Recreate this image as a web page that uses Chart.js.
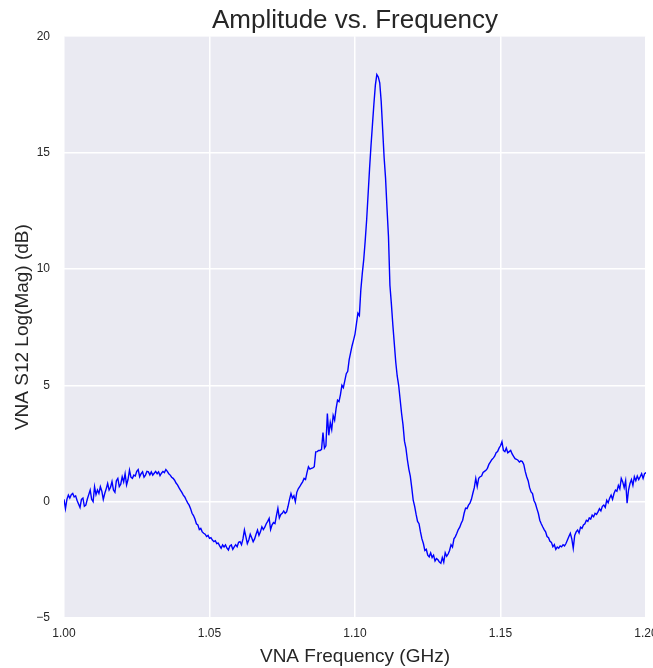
<!DOCTYPE html>
<html>
<head>
<meta charset="utf-8">
<title>Amplitude vs. Frequency</title>
<script src="https://cdn.jsdelivr.net/npm/chart.js@4.4.1/dist/chart.umd.min.js"></script>
<style>
  html, body { margin: 0; padding: 0; background: #ffffff; }
  #wrap { width: 653px; height: 668px; }
</style>
</head>
<body>
<div id="wrap"><canvas id="ampChart" width="653" height="668"></canvas></div>
<script>
// sweep: 1.000 -> 1.200 GHz, 0.0005 GHz per sample
const FREQ_START = 1.0;
const FREQ_STEP = 0.0005;

// S12 log magnitude (dB), 20 samples per 0.01 GHz
const s12 = [
  // 1.000
  0.1, -0.3, 0.1, 0.28, 0.15, 0.3, 0.35, 0.2, 0.25, 0.05, -0.1, -0.25, 0.1, 0.15, -0.2, -0.15, 0.1, 0.3, 0.5, 0.1,
  // 1.010
  0.0, 0.64, 0.3, 0.5, 0.35, 0.64, 0.45, 0.1, 0.35, 0.55, 0.78, 0.5, 0.62, 0.86, 0.5, 0.4, 0.9, 1.0, 0.65, 0.75,
  // 1.020
  1.07, 0.85, 1.2, 0.72, 0.95, 1.35, 1.05, 1.0, 1.14, 1.1, 1.3, 1.38, 1.07, 1.2, 1.28, 1.05, 1.14, 1.3, 1.28, 1.15,
  // 1.030
  1.28, 1.14, 1.22, 1.3, 1.2, 1.28, 1.12, 1.22, 1.3, 1.25, 1.38, 1.3, 1.2, 1.14, 1.05, 1.0, 0.92, 0.8, 0.72, 0.6,
  // 1.040
  0.5, 0.4, 0.28, 0.2, 0.07, -0.05, -0.15, -0.3, -0.5, -0.6, -0.75, -0.95, -1.0, -1.2, -1.15, -1.3, -1.36, -1.4, -1.5, -1.45,
  // 1.050
  -1.58, -1.55, -1.65, -1.72, -1.68, -1.8, -1.78, -1.9, -2.0, -1.86, -1.95, -1.86, -2.0, -2.08, -1.9, -1.86, -2.05, -1.94, -1.85, -1.94,
  // 1.060
  -1.75, -1.72, -1.85, -1.6, -1.22, -1.5, -1.8, -1.65, -1.4, -1.55, -1.72, -1.6, -1.4, -1.22, -1.45, -1.3, -1.08, -1.2, -1.1, -0.95,
  // 1.070
  -0.85, -0.72, -1.2, -1.0, -0.9, -0.94, -0.6, -0.29, -0.7, -0.55, -0.5, -0.4, -0.5, -0.44, -0.2, 0.1, 0.35, 0.15, 0.25, 0.0,
  // 1.080
  0.4, 0.55, 0.64, 0.75, 0.85, 1.0, 0.95, 1.25, 1.5, 1.4, 1.43, 1.45, 1.5, 2.14, 2.15, 2.2, 2.2, 2.25, 2.97, 2.3,
  // 1.090
  2.4, 3.79, 2.85, 3.4, 3.1, 3.7, 3.5, 4.0, 4.36, 4.3, 4.6, 5.0, 4.9, 5.2, 5.5, 5.6, 6.1, 6.4, 6.7, 6.94,
  // 1.100
  7.2, 7.65, 8.1, 8.0, 9.1, 9.8, 10.4, 11.2, 12.1, 13.2, 14.3, 15.3, 16.2, 17.1, 17.9, 18.35, 18.25, 18.0, 17.2, 16.0,
  // 1.110
  14.8, 13.9, 12.6, 11.4, 9.3, 8.5, 7.6, 6.8, 6.0, 5.4, 5.0, 4.4, 3.8, 3.3, 2.6, 2.3, 1.8, 1.4, 1.1, 0.6,
  // 1.120
  0.06, -0.2, -0.55, -0.85, -0.95, -1.3, -1.6, -1.8, -2.1, -2.05, -2.3, -2.37, -2.2, -2.4, -2.3, -2.55, -2.45, -2.5, -2.6, -2.65,
  // 1.130
  -2.4, -2.6, -2.2, -2.35, -2.25, -2.1, -1.85, -1.95, -1.6, -1.5, -1.36, -1.2, -1.1, -0.93, -0.8, -0.5, -0.28, -0.3, -0.15, -0.07,
  // 1.140
  0.1, 0.36, 0.6, 1.0, 0.65, 1.0, 1.07, 1.1, 1.25, 1.3, 1.35, 1.43, 1.6, 1.7, 1.8, 1.87, 1.95, 2.1, 2.15, 2.3,
  // 1.150
  2.4, 2.57, 2.2, 2.15, 2.3, 2.1, 2.15, 2.2, 2.05, 1.95, 1.85, 1.82, 1.78, 1.7, 1.75, 1.72, 1.6, 1.3, 1.07, 0.9,
  // 1.160
  0.6, 0.42, 0.35, 0.05, -0.08, -0.3, -0.5, -0.8, -0.95, -1.08, -1.2, -1.3, -1.5, -1.55, -1.7, -1.75, -1.94, -1.85, -2.05, -1.95,
  // 1.170
  -2.0, -1.9, -1.94, -1.85, -1.9, -1.8, -1.65, -1.5, -1.36, -1.6, -2.0, -1.45, -1.3, -1.22, -1.35, -1.1, -1.15, -1.0, -0.95, -0.8,
  // 1.180
  -0.85, -0.7, -0.75, -0.58, -0.65, -0.5, -0.55, -0.44, -0.3, -0.4, -0.2, -0.15, -0.25, 0.06, -0.05, 0.15, 0.28, 0.1, 0.35, 0.5,
  // 1.190
  0.45, 0.7, 0.55, 1.0, 0.85, 0.6, 0.9, -0.07, 0.5, 0.78, 0.95, 0.7, 1.07, 0.9, 1.1, 0.95, 1.07, 1.2, 1.0, 1.2,
  // 1.200
  1.25
];

const xTicks = [1.00, 1.05, 1.10, 1.15, 1.20];
const yTicks = [-5, 0, 5, 10, 15, 20];

const TEXT = '#262626';
const FONT = "'Liberation Sans', Arial, sans-serif";

const points = s12.map((v, i) => ({ x: FREQ_START + i * FREQ_STEP, y: v }));

// grey seaborn-ish panel behind the plot
const panelBg = {
  id: 'panelBg',
  beforeDraw(chart) {
    const { ctx, chartArea: a } = chart;
    ctx.save();
    ctx.fillStyle = '#EAEAF2';
    ctx.fillRect(a.left, a.top, a.right - a.left, a.bottom - a.top);
    ctx.restore();
  }
};

const ctx = document.getElementById('ampChart').getContext('2d');
new Chart(ctx, {
  type: 'line',
  data: {
    datasets: [{
      data: points,
      borderColor: '#0000ff',
      borderWidth: 1.4,
      pointRadius: 0,
      tension: 0,
      fill: false
    }]
  },
  options: {
    responsive: false,
    animation: false,
    events: [],
    layout: { padding: { left: 0, right: 7, top: 0, bottom: 0 } },
    plugins: {
      legend: { display: false },
      tooltip: { enabled: false },
      title: {
        display: true,
        text: 'Amplitude vs. Frequency',
        fullSize: false,
        color: TEXT,
        font: { family: FONT, size: 26, weight: 'normal' },
        padding: { top: 5, bottom: 0 }
      }
    },
    scales: {
      x: {
        type: 'linear',
        min: 1.0,
        max: 1.2,
        afterBuildTicks: (scale) => { scale.ticks = xTicks.map(v => ({ value: v })); },
        afterFit: (scale) => { scale.height = 50; scale.paddingRight = 0; scale.paddingLeft = 0; },
        border: { display: false },
        grid: { color: '#ffffff', lineWidth: 1.5, drawTicks: false },
        ticks: {
          color: TEXT,
          font: { family: FONT, size: 12 },
          padding: 8,
          maxRotation: 0,
          callback: (v) => Number(v).toFixed(2)
        },
        title: {
          display: true,
          text: 'VNA Frequency (GHz)',
          color: TEXT,
          font: { family: FONT, size: 19 },
          padding: { top: 0, bottom: 0 }
        }
      },
      y: {
        min: -5,
        max: 20,
        afterBuildTicks: (scale) => { scale.ticks = yTicks.map(v => ({ value: v })); },
        afterFit: (scale) => { scale.width = 64; },
        border: { display: false },
        grid: { color: '#ffffff', lineWidth: 1.5, drawTicks: false },
        ticks: {
          color: TEXT,
          font: { family: FONT, size: 12 },
          padding: 14,
          callback: (v) => String(v).replace('-', '\u2212')
        },
        title: {
          display: true,
          text: 'VNA S12 Log(Mag) (dB)',
          color: TEXT,
          font: { family: FONT, size: 19 },
          padding: { top: 11, bottom: 0 }
        }
      }
    }
  },
  plugins: [panelBg]
});
</script>
</body>
</html>
